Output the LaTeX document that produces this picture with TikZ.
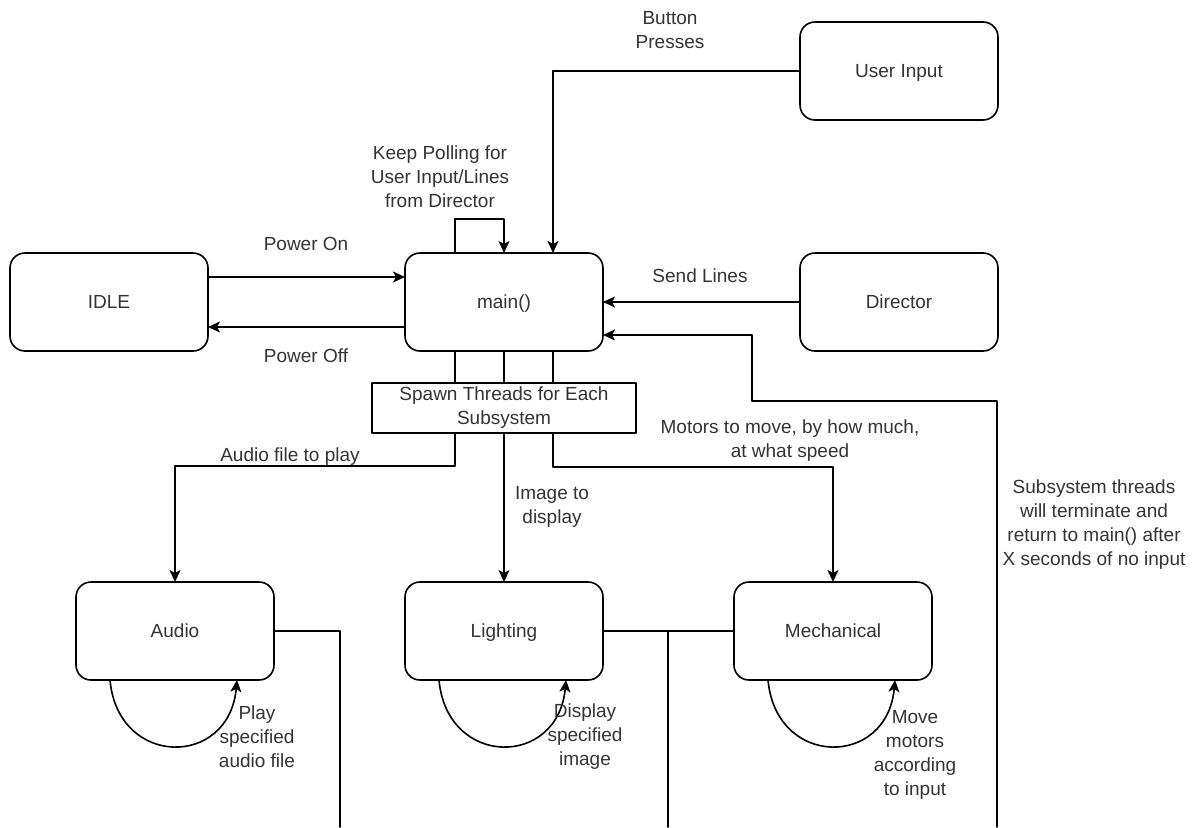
\documentclass[tikz,border=0pt]{standalone}
\usepackage{fontspec}
\setmainfont{Liberation Sans}
\usepackage{tikz}
\usetikzlibrary{arrows.meta,positioning,calc}
\definecolor{ink}{HTML}{333333}
\tikzset{
    every picture/.style={line cap=round,line join=round},
    statebox/.style={draw=black,fill=white,line width=1.6pt,rounded corners=15pt,
      minimum width=198pt,minimum height=98pt,inner sep=2pt,outer sep=0pt,
      text height=13.6pt,text depth=0pt,text=ink,align=center},
    spawnbox/.style={draw=black,fill=white,line width=1.6pt,
      minimum width=264pt,minimum height=50pt,inner sep=0pt,outer sep=0pt,
      text=ink,align=center},
    flowarrow/.style={-{Stealth[length=12pt,width=11pt,inset=3pt]},draw=black,
      line width=1.6pt},
    plainline/.style={draw=black,line width=1.6pt},
    note/.style={text=ink,inner sep=0pt,align=center}
}

\begin{document}
\begin{tikzpicture}[x=1pt,y=-1pt,font=\fontsize{19}{24}\selectfont]
  \useasboundingbox (0,0) rectangle (1198,827);
  % states
  \node[statebox] (main) at (504,302) {main()};
  \node[statebox,left=197pt of main] (idle) {IDLE};
  \node[statebox,right=197pt of main] (director) {Director};
  \node[statebox,above=133pt of director] (userin) {User Input};
  \node[spawnbox,below=32pt of main] (spawn) {Spawn Threads for Each\\Subsystem};
  \node[statebox,below=149pt of spawn] (lighting) {Lighting};
  \node[statebox,left=131pt of lighting] (audio) {Audio};
  \node[statebox,right=131pt of lighting] (mech) {Mechanical};
  % free ends at the bottom edge
  \coordinate (audioend) at (340,827);
  \coordinate (lightend) at (668,827);
  \coordinate (retstart) at (997,827);

  % power on / off
  \draw[flowarrow] (idle.east|-0,277) -- (main.west|-0,277);
  \draw[flowarrow] (main.west|-0,327) -- (idle.east|-0,327);
  \node[note] (lblon) at (306,244) {Power On};
  \node[note] (lbloff) at (306,356) {Power Off};

  % polling loop and inputs
  \draw[flowarrow] (main.north-|455,0) |- (main.north|-0,219) -- (main.north);
  \node[note] (lblpoll) at (440,177) {Keep Polling for\\User Input/Lines\\from Director};
  \draw[flowarrow] (userin.west) -| (main.north-|553,0);
  \node[note] (lblbtn) at (670,30) {Button\\Presses};
  \draw[flowarrow] (director.west) -- (main.east);
  \node[note] (lblsend) at (700,276) {Send Lines};
  \draw[flowarrow] (retstart) |- (752,401) |- (main.east|-0,335);
  \node[note] (lblret) at (1094,525) {Subsystem threads\\will terminate and\\return to main() after\\X seconds of no input};

  % spawning the threads
  \foreach \x in {455,504,553}
    \draw[plainline] (main.south-|\x,0) -- (spawn.north-|\x,0);
  \draw[flowarrow] (spawn.south-|455,0) |- (audio.north|-0,466) -- (audio.north);
  \node[note] (lblaudio) at (290,457) {Audio file to play};
  \draw[flowarrow] (spawn.south) -- (lighting.north);
  \node[note] (lblimg) at (552,507) {Image to\\display};
  \draw[flowarrow] (spawn.south-|553,0) |- (mech.north|-0,467) -- (mech.north);
  \node[note] (lblmotor) at (790,441) {Motors to move, by how much,\\at what speed};

  % returns
  \draw[plainline] (audio.east) -| (audioend);
  \draw[plainline] (lighting.east) -- (mech.west);
  \draw[plainline] (lighting.east-|lightend) -- (lightend);

  % subsystem loops
  \foreach \n in {audio,lighting,mech}
    \draw[flowarrow] ([xshift=-65pt]\n.south) .. controls +(8,88) and +(-8,88) .. ([xshift=62pt]\n.south);
  \node[note] (lblplay) at (257,737) {Play\\specified\\audio file};
  \node[note] (lbldisp) at (585,737) {Display\\specified\\image};
  \node[note] (lblmove) at (915,755) {Move\\motors\\according\\to input};
\end{tikzpicture}
\end{document}
